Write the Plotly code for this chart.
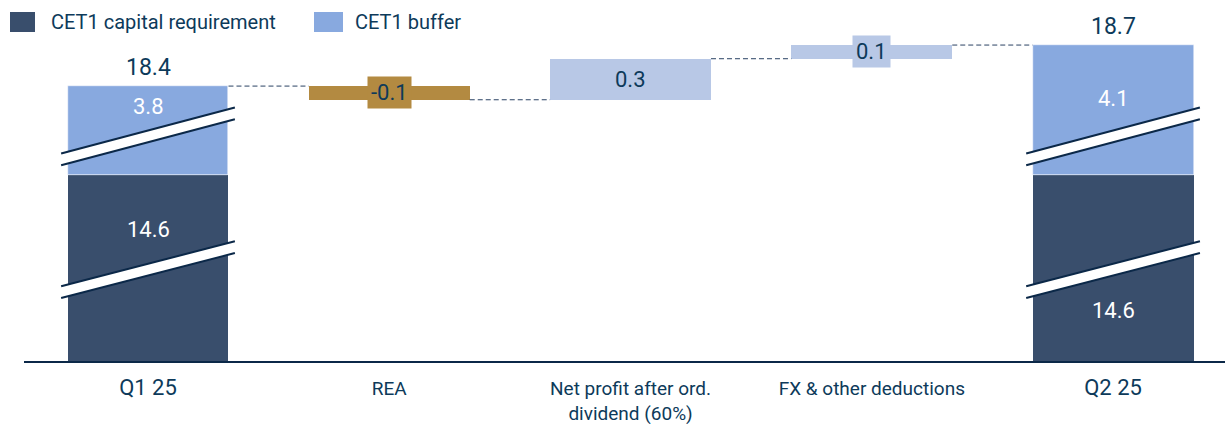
import plotly.graph_objects as go

# ---- data -------------------------------------------------------------
categories = ["Q1 25", "REA", "Net profit after ord.<br>dividend (60%)",
              "FX & other deductions", "Q2 25"]
start_requirement = 14.6
start_buffer = 3.8
changes = [-0.1, 0.3, 0.1]          # REA, net profit, FX & other
end_requirement = 14.6
end_buffer = 4.1

# ---- styling ----------------------------------------------------------
DARK = "#394e6c"
LIGHT = "#88a9df"
GOLD = "#b38a41"
PALE = "#b8c8e6"
TEXT = "#0d3a5a"
LINE = "#0b2848"
FONT = "Roboto"

# broken axis: amounts cut out of the requirement and buffer segments
REQ_CUT = 13.24
BUF_CUT = 3.15
BAR_W = 0.667

def disp(v):
    """Map a total CET1 value onto the compressed display scale."""
    return v - REQ_CUT - BUF_CUT

x = list(range(len(categories)))
start_total = start_requirement + start_buffer
end_total = end_requirement + end_buffer

fig = go.Figure()

# stacked start / end columns
req_disp = [start_requirement - REQ_CUT, end_requirement - REQ_CUT]
buf_disp = [start_buffer - BUF_CUT, end_buffer - BUF_CUT]
fig.add_trace(go.Bar(x=[0, 4], y=req_disp, base=[0, 0], width=BAR_W,
                     marker=dict(color=DARK, line_width=0),
                     name="CET1 capital requirement", showlegend=False))
fig.add_trace(go.Bar(x=[0, 4], y=buf_disp, base=req_disp, width=BAR_W,
                     marker=dict(color=LIGHT, line=dict(color="white", width=0.5)),
                     name="CET1 buffer", showlegend=False))

# floating change bars
running = start_total
levels = [running]
bases, heights, colors = [], [], []
for c in changes:
    lo, hi = min(running, running + c), max(running, running + c)
    bases.append(disp(lo))
    heights.append(hi - lo)
    colors.append(GOLD if c < 0 else PALE)
    running += c
    levels.append(running)
fig.add_trace(go.Bar(x=[1, 2, 3], y=heights, base=bases, width=BAR_W,
                     marker=dict(color=colors, line_width=0), showlegend=False))

shapes = []

# dashed connectors between neighbouring bars
for i, lvl in enumerate(levels):
    shapes.append(dict(type="line", xref="x", yref="y",
                       x0=i + BAR_W / 2, x1=i + 1 - BAR_W / 2,
                       y0=disp(lvl), y1=disp(lvl),
                       line=dict(color="#2a4263", width=1, dash="5px,3px")))

# axis-break marks across the start / end columns
BREAKS = [(1.474, 1.810), (0.504, 0.832)]   # (left, right) centre heights
HALF = 0.043
for cx in (0, 4):
    xl, xr = cx - 0.36, cx + 0.36
    for yl, yr in BREAKS:
        shapes.append(dict(type="path", xref="x", yref="y",
                           path=f"M {xl},{yl-HALF} L {xr},{yr-HALF} L {xr},{yr+HALF} L {xl},{yl+HALF} Z",
                           fillcolor="white", line_width=0))
        for s in (-1, 1):
            shapes.append(dict(type="line", xref="x", yref="y",
                               x0=xl, y0=yl + s * HALF, x1=xr, y1=yr + s * HALF,
                               line=dict(color=LINE, width=2)))

# legend swatches
shapes.append(dict(type="rect", xref="paper", yref="paper",
                   x0=(10 - 24) / 1201, x1=(35 - 24) / 1201,
                   y0=(361 - 32) / 331, y1=(361 - 12) / 331,
                   fillcolor=DARK, line_width=0))
shapes.append(dict(type="rect", xref="paper", yref="paper",
                   x0=(314 - 24) / 1201, x1=(343 - 24) / 1201,
                   y0=(361 - 32) / 331, y1=(361 - 12) / 331,
                   fillcolor=LIGHT, line_width=0))

annotations = [
    dict(xref="paper", yref="paper", x=(49 - 24) / 1201, y=(361 - 22) / 331,
         text="CET1 capital requirement", showarrow=False, xanchor="left",
         yanchor="middle", font=dict(family=FONT, size=20, color=TEXT)),
    dict(xref="paper", yref="paper", x=(353 - 24) / 1201, y=(361 - 22) / 331,
         text="CET1 buffer", showarrow=False, xanchor="left",
         yanchor="middle", font=dict(family=FONT, size=20, color=TEXT)),
]

# totals above the start / end columns
for xi, tot in ((0, start_total), (4, end_total)):
    annotations.append(dict(x=xi, y=disp(tot), text=f"{tot:.1f}", showarrow=False,
                            yanchor="bottom", yshift=3,
                            font=dict(family=FONT, size=23, color=TEXT)))

# segment labels inside the start / end columns
SEG_LABEL_Y = {(0, "buf"): 1.864, (0, "req"): 0.965,
               (4, "buf"): 1.922, (4, "req"): 0.366}
for xi, req, buf in ((0, start_requirement, start_buffer),
                     (4, end_requirement, end_buffer)):
    annotations.append(dict(x=xi, y=SEG_LABEL_Y[(xi, "buf")], text=f"{buf:.1f}",
                            showarrow=False, font=dict(family=FONT, size=22, color="white")))
    annotations.append(dict(x=xi, y=SEG_LABEL_Y[(xi, "req")], text=f"{req:.1f}",
                            showarrow=False, font=dict(family=FONT, size=22, color="white")))

# change labels centred on the floating bars
for i, c in enumerate(changes):
    mid = bases[i] + heights[i] / 2
    annotations.append(dict(x=i + 1, y=mid, text=f"{c:.1f}", showarrow=False,
                            bgcolor=colors[i], borderpad=3,
                            font=dict(family=FONT, size=22, color=TEXT)))

ticktext = [f'<span style="font-size:22px">{c}</span>' if c.startswith("Q") else c
            for c in categories]

fig.update_layout(
    width=1225, height=424,
    margin=dict(l=24, r=0, t=30, b=63, autoexpand=False),
    paper_bgcolor="white", plot_bgcolor="white",
    barmode="overlay", bargap=0,
    shapes=shapes, annotations=annotations,
    xaxis=dict(range=[-0.514, 4.464], tickvals=x, ticktext=ticktext,
               showgrid=False, zeroline=False, showline=True, automargin=False,
               linecolor=LINE, linewidth=2, ticks="", ticklabelstandoff=9,
               tickfont=dict(family=FONT, size=19, color=TEXT)),
    yaxis=dict(range=[0, 2.42], visible=False, showgrid=False, zeroline=False),
    font=dict(family=FONT, color=TEXT),
)

fig.write_html("out.html")
